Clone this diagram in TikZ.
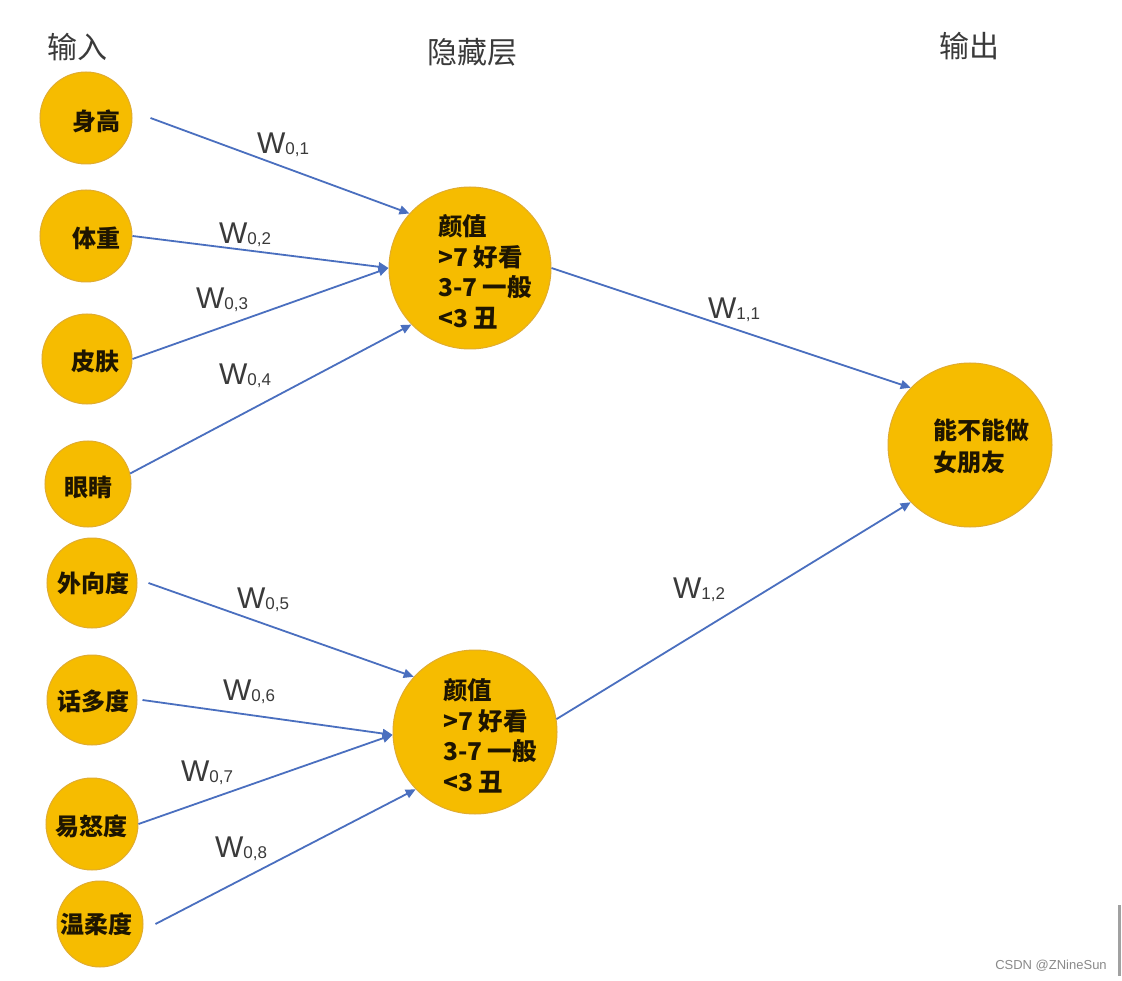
\documentclass[tikz,border=0pt]{standalone}
\usepackage{fontspec}
\setmainfont{Noto Sans CJK SC}
\newfontfamily\latinfont{Liberation Sans}
\usetikzlibrary{arrows.meta}
\definecolor{nfill}{HTML}{F6BC00}
\definecolor{nedge}{HTML}{E0AC30}
\definecolor{wblue}{HTML}{4A6FBF}
\definecolor{tgray}{HTML}{3A3A3A}
\definecolor{ntext}{HTML}{1E1500}
\definecolor{wmgray}{HTML}{8A8A8A}
\newcommand\wlab[1]{W\raisebox{-1.5pt}{\fontsize{17}{17}\selectfont #1}}
\begin{document}
\begin{tikzpicture}[x=1pt,y=-1pt,
  neuron/.style={circle, fill=nfill, draw=nedge, line width=1pt, inner sep=0pt},
  ntxt/.style={text=ntext, font=\bfseries\fontsize{24}{24}\selectfont, inner sep=0pt},
  htxt/.style={text=ntext, font=\bfseries\fontsize{24.5}{30.5}\selectfont, align=left, inner sep=0pt},
  title/.style={text=tgray, font=\fontsize{30}{30}\selectfont, inner sep=0pt},
  wire/.style={draw=wblue, line width=1.8pt, -{Triangle[length=10pt,width=9pt]}},
  wl/.style={text=tgray, font=\latinfont\fontsize{30}{30}\selectfont, inner sep=0pt}]
\useasboundingbox[fill=white] (0,0) rectangle (1122,981);

% titles
\node[title] (tin) at (77,47) {输入};
\node[title] (thid) at (472,52) {隐藏层};
\node[title] (tout) at (969,46) {输出};

% input neurons
\node[neuron, minimum size=92pt] (i1) at (86,118) {};
\node[neuron, minimum size=92pt] (i2) at (86,236) {};
\node[neuron, minimum size=90pt] (i3) at (87,359) {};
\node[neuron, minimum size=86pt] (i4) at (88,484) {};
\node[neuron, minimum size=90pt] (i5) at (92,583) {};
\node[neuron, minimum size=90pt] (i6) at (92,700) {};
\node[neuron, minimum size=92pt] (i7) at (92,824) {};
\node[neuron, minimum size=86pt] (i8) at (100,924) {};

\node[ntxt] (t1) at (96,121) {身高};
\node[ntxt] (t2) at (96,238) {体重};
\node[ntxt] (t3) at (95,361) {皮肤};
\node[ntxt] (t4) at (88,487) {眼睛};
\node[ntxt] (t5) at (93,583) {外向度};
\node[ntxt] (t6) at (93,701) {话多度};
\node[ntxt] (t7) at (91,826) {易怒度};
\node[ntxt] (t8) at (96,924) {温柔度};

% hidden neurons
\node[neuron, minimum size=162pt] (h1) at (470,268) {};
\node[neuron, minimum size=164pt] (h2) at (475,732) {};
\node[htxt] (ht1) at (485,272) {颜值\\>7 好看\\3-7 一般\\<3 丑};
\node[htxt] (ht2) at (490,736) {颜值\\>7 好看\\3-7 一般\\<3 丑};

% output neuron
\node[neuron, minimum size=164pt] (o) at (970,445) {};
\node[htxt, font=\bfseries\fontsize{24}{32}\selectfont] (ot) at (981,446) {能不能做\\女朋友};

% connectors
\draw[wire] ([xshift=18pt]i1.east) -- (h1.138);
\draw[wire] (i2.east) -- (h1.west);
\draw[wire] (i3.east) -- (h1.west);
\draw[wire] (i4.14) -- (h1.224);
\draw[wire] ([xshift=11pt]i5.east) -- (h2.138);
\draw[wire] ([xshift=5pt]i6.east) -- (h2.182);
\draw[wire] (i7.east) -- (h2.182);
\draw[wire] ([xshift=12pt]i8.east) -- (h2.224);
\draw[wire] (h1.east) -- (o.136);
\draw[wire] (h2.9) -- (o.224);

% weight labels
\node[wl] (w01) at (283,145) {\wlab{0,1}};
\node[wl] (w02) at (245,235) {\wlab{0,2}};
\node[wl] (w03) at (222,300) {\wlab{0,3}};
\node[wl] (w04) at (245,376) {\wlab{0,4}};
\node[wl] (w05) at (263,600) {\wlab{0,5}};
\node[wl] (w06) at (249,692) {\wlab{0,6}};
\node[wl] (w07) at (207,773) {\wlab{0,7}};
\node[wl] (w08) at (241,849) {\wlab{0,8}};
\node[wl] (w11) at (734,310) {\wlab{1,1}};
\node[wl] (w12) at (699,590) {\wlab{1,2}};

% watermark
\node[text=wmgray, font=\latinfont\fontsize{13}{13}\selectfont, inner sep=0pt] (wm) at (1051,966) {CSDN @ZNineSun};
\fill[wmgray!80] (1117.5,905) rectangle (1121,976);
\end{tikzpicture}
\end{document}
